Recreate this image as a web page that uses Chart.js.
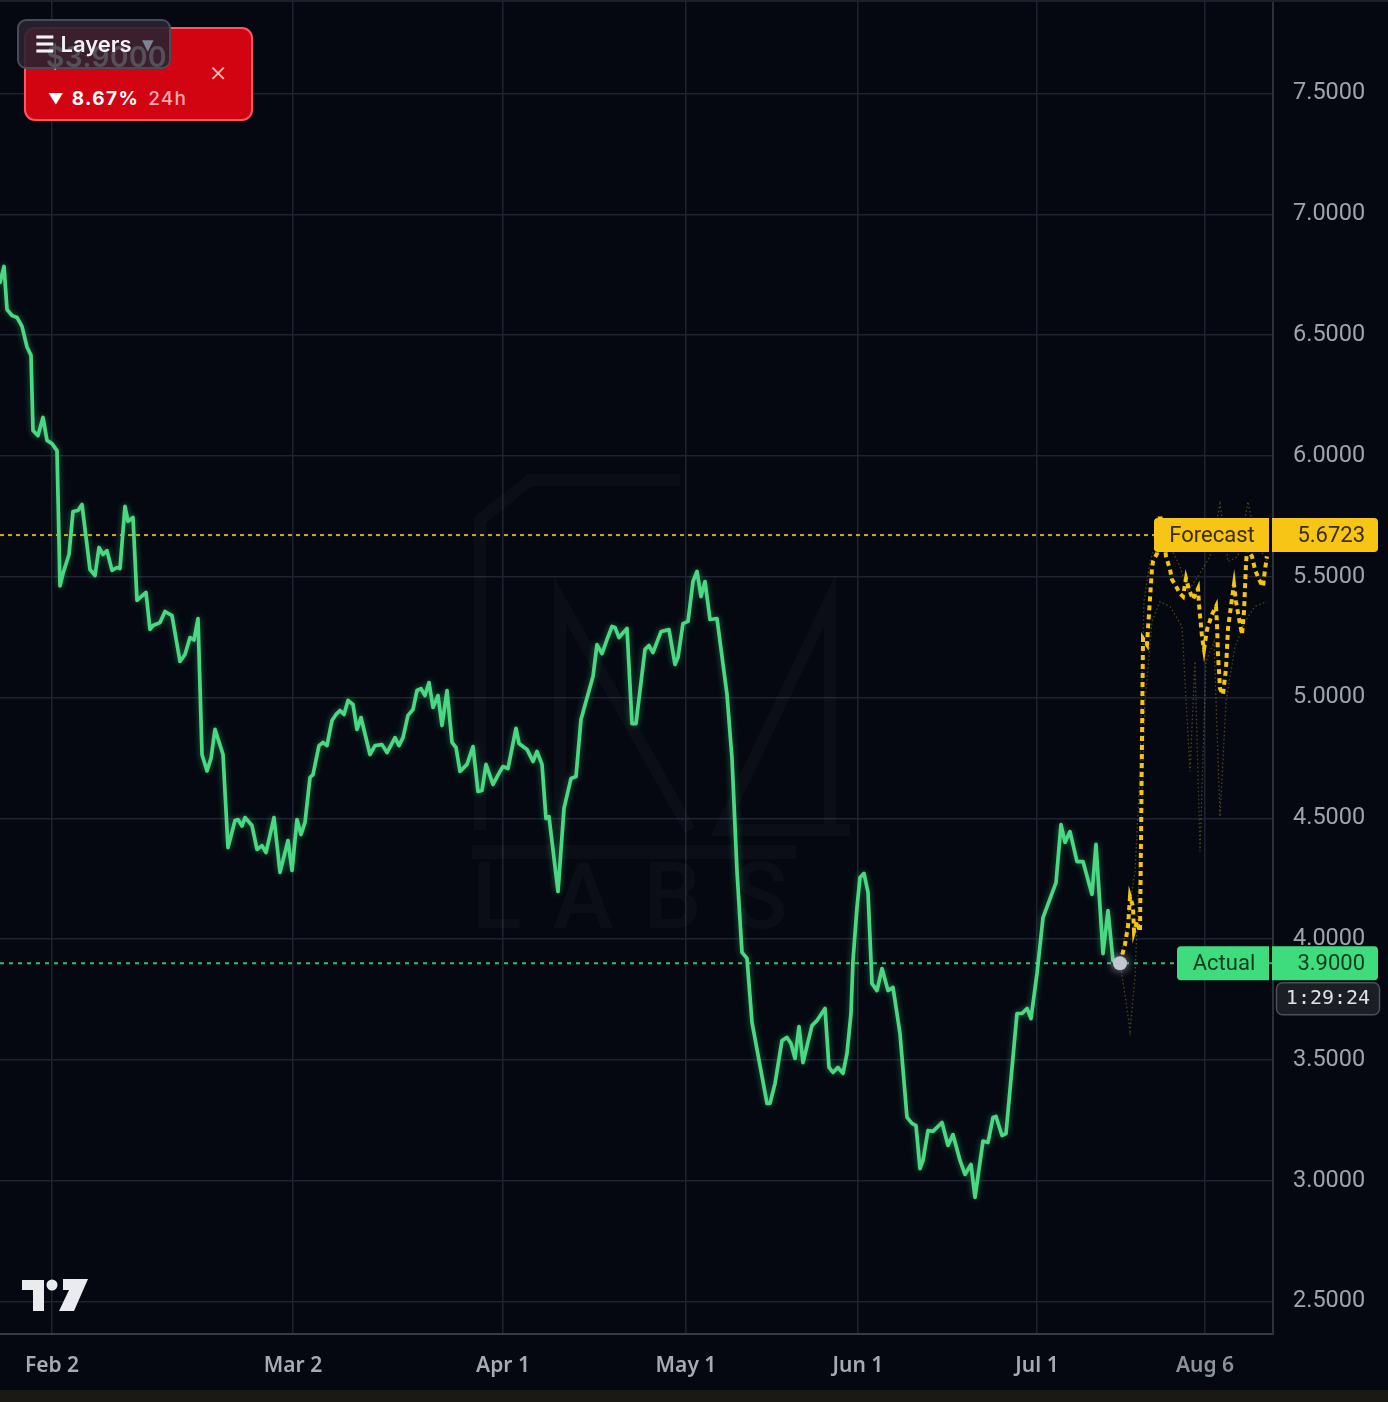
<!DOCTYPE html>
<html>
<head>
<meta charset="utf-8">
<script src="https://cdn.jsdelivr.net/npm/chart.js@4.4.1/dist/chart.umd.min.js"></script>
<style>
html,body{margin:0;padding:0;background:#050811;}
body{width:1388px;height:1402px;position:relative;overflow:hidden;font-family:Inter,Roboto,'Noto Sans',sans-serif;}
#wrap{position:absolute;left:0;top:0;width:1388px;height:1390px;}
#strip{position:absolute;left:0;top:1390px;width:1388px;height:12px;background:#1b1a12;}
#topline{position:absolute;left:0;top:0;width:1388px;height:2px;background:#1a202c;z-index:5;}
.badge{position:absolute;left:24px;top:27px;width:229px;height:94px;box-sizing:border-box;background:#d20412;border:2px solid #ff5462;border-radius:11px;z-index:6;}
.price{position:absolute;left:46px;top:40px;font:600 28px Inter,Roboto,sans-serif;color:#ffffff;z-index:7;letter-spacing:0.5px;}
.pct{position:absolute;left:48px;top:87px;font:700 19px Inter,Roboto,sans-serif;color:#ffffff;letter-spacing:1.4px;z-index:7;white-space:nowrap;}
.pct .tri{font-size:15px;letter-spacing:0;margin-right:8px;position:relative;top:-1px;}
.pct .h{color:#f6a9b1;font-weight:500;letter-spacing:1.2px;margin-left:9px;}
.close{position:absolute;left:209px;top:54px;font:300 28px Inter,Roboto,sans-serif;color:#f7b5bc;z-index:7;}
.layers{position:absolute;left:17px;top:19px;width:154px;height:50px;box-sizing:border-box;background:rgba(42,34,48,0.9);border:2px solid #474c5a;border-radius:9px;z-index:8;}
.layers .t{position:absolute;left:16px;top:10px;font:600 22px Inter,Roboto,sans-serif;color:#f2f2f4;white-space:nowrap;}
.layers .a{position:absolute;left:123px;top:15px;font:400 15px 'DejaVu Sans',sans-serif;color:#7d8494;}
.ghost{position:absolute;left:46px;top:40px;font:600 28px Inter,Roboto,sans-serif;color:rgba(255,255,255,0.12);z-index:9;letter-spacing:0.5px;}
#tv{position:absolute;left:22px;top:1277px;z-index:6;}
</style>
</head>
<body>
<div id="wrap"><canvas id="c" width="1388" height="1390"></canvas></div>
<div id="topline"></div>
<div id="strip"></div>
<div class="badge"></div>
<div class="price">$3.9000</div>
<div class="pct"><span class="tri">▼</span>8.67%<span class="h">24h</span></div>
<div class="close">×</div>
<div class="layers"><div class="t">☰ Layers</div><div class="a">▼</div></div>
<div class="ghost">$3.9000</div>
<svg id="tv" width="68" height="36" viewBox="0 0 68 36">
  <rect x="0" y="3" width="22" height="10" fill="#e9ebef"/>
  <rect x="11" y="3" width="11" height="31" fill="#e9ebef"/>
  <circle cx="30" cy="8" r="5.5" fill="#e9ebef"/>
  <polygon points="41,2 66,2 52,34 37,34 47,13 41,13" fill="#e9ebef"/>
</svg>
<script>
// ---- data ----
const actualX = [0,0.8,1.4,2.4,3.4,4.4,5.4,6.2,6.6,7.6,8.6,9.4,10.4,11.4,12.0,12.6,13.8,14.6,15.6,16.4,18.0,19.0,19.8,20.6,21.4,22.4,23.4,24.0,25.0,25.6,26.6,27.4,29.2,30.0,30.6,32.0,33.0,34.4,36.0,37.0,38.0,38.8,39.6,40.4,41.4,42.2,43.0,44.6,45.6,47.0,47.6,48.4,49.0,50.4,51.4,52.4,53.2,54.8,56.0,57.6,58.4,59.4,60.2,61.0,62.0,62.6,63.8,64.6,65.4,66.4,67.2,68.0,68.8,69.6,70.6,71.4,72.2,74.0,75.0,76.4,77.4,79.0,79.8,80.6,81.6,82.6,83.4,84.2,85.0,85.8,86.6,87.6,88.4,89.4,90.4,91.2,
  92.0,93.4,94.6,95.6,96.4,97.2,98.6,100.0,100.6,101.6,103.2,103.8,105.4,106.6,107.4,108.4,109.2,109.8,111.6,112.8,114.2,115.2,116.2,117.2,118.6,119.4,120.4,121.4,122.4,123.0,123.8,125.4,126.4,127.2,129.0,129.8,130.6,132.2,133.0,133.8,135.0,135.6,136.6,137.6,138.6,139.4,140.2,141.0,142.0,143.4,145.4,146.4,147.4,148.4,149.4,150.4,
  153.4,154.0,155.0,156.4,157.4,158.2,159.0,159.8,160.6,162.4,163.4,165.0,165.8,166.6,167.6,168.6,169.4,170.2,170.6,171.4,172.0,172.8,173.6,174.4,175.4,176.4,177.6,178.6,180.0,181.4,182.4,183.2,184.0,184.6,185.6,186.6,188.4,189.6,190.6,192.0,
  193.0,194.2,195.0,196.6,197.6,198.6,199.2,200.4,201.2,203.4,204.4,205.4,206.2,207.4,208.6,211.2,212.2,213.0,214.0,215.4,216.6,218.4,219.2,220.6,221.6,222.6,224.0];
const actualY = [6.718,6.784,6.606,6.581,6.573,6.536,6.451,6.416,6.105,6.084,6.159,6.064,6.051,6.022,5.462,5.513,5.592,5.770,5.774,5.799,5.530,5.505,5.621,5.592,5.608,5.526,5.538,5.534,5.791,5.729,5.745,5.402,5.435,5.282,5.298,5.310,5.356,5.339,5.149,5.178,5.248,5.238,5.327,4.764,4.696,4.748,4.868,4.764,4.379,4.491,4.495,4.468,4.503,4.470,4.371,4.387,4.358,4.503,4.276,4.408,4.284,4.495,4.433,4.483,4.669,4.681,4.801,4.814,4.801,4.905,4.930,4.946,4.930,4.988,4.971,4.868,4.917,4.764,4.801,4.805,4.772,4.834,4.801,4.834,4.926,4.950,5.029,5.037,5.008,5.062,4.959,5.008,4.884,5.029,4.814,4.793,
  4.694,4.723,4.797,4.611,4.615,4.723,4.640,4.694,4.714,4.706,4.872,4.810,4.785,4.735,4.777,4.723,4.499,4.507,4.197,4.541,4.665,4.673,4.909,4.983,5.087,5.219,5.182,5.240,5.294,5.290,5.248,5.286,4.892,4.892,5.199,5.215,5.186,5.273,5.277,5.281,5.137,5.166,5.306,5.315,5.480,5.522,5.418,5.480,5.323,5.327,5.012,4.748,4.280,3.945,3.920,3.655,
  3.320,3.320,3.402,3.580,3.593,3.568,3.506,3.638,3.489,3.642,3.663,3.713,3.469,3.448,3.469,3.444,3.527,3.692,3.911,4.131,4.255,4.272,4.193,3.816,3.787,3.878,3.787,3.800,3.609,3.262,3.237,3.228,3.050,3.084,3.208,3.204,3.241,3.146,3.191,3.084,
  3.026,3.067,2.931,3.164,3.158,3.262,3.266,3.187,3.195,3.692,3.692,3.713,3.671,3.858,4.089,4.234,4.474,4.400,4.445,4.321,4.321,4.185,4.392,3.940,4.118,3.911,3.900];

const forecastX = [224.0,225.0,225.6,226.0,226.6,226.8,227.4,228.0,228.2,228.4,228.6,229.4,229.6,230.0,230.4,230.6,231.4,232.0,232.6,233.2,234.0,234.4,235.0,236.0,236.6,237.2,237.8,238.6,239.6,239.8,240.4,240.8,241.4,242.4,243.2,243.4,243.6,244.0,244.6,245.2,245.6,246.4,246.8,247.2,247.8,248.4,248.8,249.2,249.4,250.4,251.0,251.8,252.6,253.0,253.4];
const forecastY = [3.900,3.978,4.052,4.176,4.135,4.031,4.073,4.031,4.404,4.818,5.244,5.219,5.286,5.410,5.534,5.563,5.596,5.757,5.687,5.584,5.530,5.488,5.468,5.430,5.418,5.493,5.447,5.406,5.451,5.385,5.252,5.199,5.281,5.343,5.377,5.302,5.178,5.037,5.012,5.120,5.286,5.410,5.468,5.397,5.327,5.261,5.356,5.550,5.613,5.584,5.530,5.488,5.459,5.530,5.584];

const lowerX = [224.0,225.2,226.0,227.0,228.0,229.0,230.4,232.0,234.0,236.4,238.0,239.0,240.0,241.2,242.8,244.0,245.2,247.0,249.0,251.0,253.4];
const lowerY = [3.900,3.742,3.618,3.845,4.363,4.983,5.315,5.397,5.377,5.294,4.694,5.149,4.363,5.149,5.232,4.507,4.983,5.211,5.315,5.377,5.397];
const upperX = [224.0,225.6,227.0,228.0,228.8,230.0,232.0,234.0,236.0,237.6,239.6,242.0,244.0,245.6,247.6,249.6,251.2,253.4];
const upperY = [3.900,4.094,4.280,4.694,5.397,5.563,5.687,5.625,5.542,5.439,5.501,5.584,5.803,5.563,5.584,5.811,5.646,5.563];

const xTickPos = [10.4, 58.6, 100.6, 137.2, 171.6, 207.4, 241.0];
const xTickLabels = ['Feb 2','Mar 2','Apr 1','May 1','Jun 1','Jul 1','Aug 6'];
const yTicks = [2.5,3.0,3.5,4.0,4.5,5.0,5.5,6.0,6.5,7.0,7.5];
const xMin = 0, xMax = 254.6;
const yMin = 2.3655, yMax = 7.8870;
const forecastLast = 5.6723;
const actualLast = 3.9;
const timerText = '1:29:24';

// ---- build ----
const pts = (xs, ys) => xs.map((x, i) => ({x: x, y: ys[i]}));
const FONT = 'Roboto, "Noto Sans", sans-serif';

const overlay = {
  id: 'overlay',
  beforeDatasetsDraw(chart) {
    const {ctx, chartArea: a, scales: {y}} = chart;
    // faint watermark
    ctx.save();
    ctx.fillStyle = 'rgba(255,255,255,0.026)';
    ctx.font = '500 92px ' + FONT;
    if ('letterSpacing' in ctx) ctx.letterSpacing = '30px';
    ctx.fillText('LABS', 472, 928);
    ctx.fillRect(472, 845, 324, 14);
    ctx.strokeStyle = 'rgba(255,255,255,0.026)';
    ctx.lineWidth = 12;
    ctx.beginPath();
    ctx.moveTo(480, 830); ctx.lineTo(480, 520); ctx.lineTo(530, 480); ctx.lineTo(680, 480);
    ctx.moveTo(560, 830); ctx.lineTo(560, 600); ctx.lineTo(690, 830);
    ctx.moveTo(830, 830); ctx.lineTo(830, 600); ctx.lineTo(720, 830); ctx.lineTo(850, 830);
    ctx.stroke();
    ctx.restore();
    // dotted price lines
    const yf = y.getPixelForValue(forecastLast);
    const ya = y.getPixelForValue(actualLast);
    ctx.save();
    ctx.lineWidth = 2;
    ctx.setLineDash([4, 4]);
    ctx.strokeStyle = '#d6ab0e';
    ctx.beginPath(); ctx.moveTo(a.left, yf); ctx.lineTo(a.right, yf); ctx.stroke();
    ctx.setLineDash([4, 5]);
    ctx.strokeStyle = '#2fbf6d';
    ctx.beginPath(); ctx.moveTo(a.left, ya); ctx.lineTo(a.right, ya); ctx.stroke();
    ctx.restore();
  },
  beforeDatasetDraw(chart, args) {
    const ctx = chart.ctx;
    ctx.save();
    if (args.index === 0) { ctx.shadowColor = 'rgba(220,225,235,0.7)'; ctx.shadowBlur = 10; }
    if (args.index === 1) { ctx.shadowColor = 'rgba(74,222,128,0.45)'; ctx.shadowBlur = 6; }
  },
  afterDatasetDraw(chart) { chart.ctx.restore(); },
  afterDraw(chart) {
    const {ctx, chartArea: a, scales: {y}} = chart;
    const yf = y.getPixelForValue(forecastLast);
    const ya = y.getPixelForValue(actualLast);
    function box(x1, x2, yc, h, fill, r) {
      ctx.fillStyle = fill;
      ctx.beginPath();
      ctx.roundRect(x1, yc - h / 2, x2 - x1, h, r);
      ctx.fill();
    }
    ctx.save();
    ctx.font = '22px ' + FONT;
    ctx.textBaseline = 'middle';
    // forecast
    box(a.right - 119, a.right - 4, yf, 34, '#f6c515', [4, 0, 0, 4]);
    box(a.right - 1, a.right + 105, yf, 34, '#f6c515', [0, 4, 4, 0]);
    ctx.fillStyle = '#3a2e00';
    ctx.textAlign = 'center';
    ctx.fillText('Forecast', a.right - 61, yf + 1);
    ctx.textAlign = 'right';
    ctx.fillText(forecastLast.toFixed(4), a.right + 92, yf + 1);
    // actual
    box(a.right - 96, a.right - 4, ya, 34, '#3fdc7d', [4, 0, 0, 4]);
    box(a.right - 1, a.right + 105, ya, 34, '#3fdc7d', [0, 4, 4, 0]);
    ctx.fillStyle = '#0d3b1f';
    ctx.textAlign = 'center';
    ctx.fillText('Actual', a.right - 49, ya + 1);
    ctx.textAlign = 'right';
    ctx.fillText(actualLast.toFixed(4), a.right + 92, ya + 1);
    // timer
    ctx.fillStyle = '#1b1e25';
    ctx.strokeStyle = '#4a4f5b';
    ctx.lineWidth = 1.5;
    ctx.beginPath();
    ctx.roundRect(a.right + 3.5, ya + 19.5, 103, 32, 6);
    ctx.fill(); ctx.stroke();
    ctx.fillStyle = '#dfe2e7';
    ctx.textAlign = 'center';
    ctx.font = '20px "DejaVu Sans Mono", monospace';
    ctx.fillText(timerText, a.right + 55, ya + 36);
    ctx.restore();
  }
};

new Chart(document.getElementById('c'), {
  type: 'line',
  data: {
    datasets: [
      { data: [{x: actualX[actualX.length - 1], y: actualY[actualY.length - 1]}],
        showLine: false, pointRadius: 7, pointHoverRadius: 7,
        pointBackgroundColor: '#c4c7cf', pointBorderWidth: 0, order: 0 },
      { data: pts(actualX, actualY), borderColor: '#4bd882', borderWidth: 3.7,
        pointRadius: 0, tension: 0, order: 1, borderJoinStyle: 'round', borderCapStyle: 'round' },
      { data: pts(forecastX, forecastY), borderColor: '#f4c412', borderWidth: 4,
        borderDash: [5, 4], pointRadius: 0, tension: 0, order: 2 },
      { data: pts(upperX, upperY), borderColor: 'rgba(150,120,20,0.55)', borderWidth: 1.3,
        borderDash: [1.5, 2.5], pointRadius: 0, tension: 0, order: 3 },
      { data: pts(lowerX, lowerY), borderColor: 'rgba(150,120,20,0.55)', borderWidth: 1.3,
        borderDash: [1.5, 2.5], pointRadius: 0, tension: 0, order: 4 }
    ]
  },
  options: {
    responsive: false,
    animation: false,
    devicePixelRatio: 1,
    layout: { padding: 0, autoPadding: false },
    plugins: { legend: { display: false }, tooltip: { enabled: false } },
    events: [],
    scales: {
      x: {
        type: 'linear', min: xMin, max: xMax,
        afterBuildTicks: s => { s.ticks = xTickPos.map(v => ({value: v})); },
        afterFit: s => { s.height = 56; s.paddingLeft = 0; s.paddingRight = 0; },
        grid: { color: '#1d2331', lineWidth: 1.5, drawTicks: false },
        border: { display: true, color: '#363c48', width: 2 },
        ticks: {
          autoSkip: false, maxRotation: 0, padding: 19,
          callback: (v, i) => xTickLabels[i],
          color: c => (c.index === 6 ? '#8c919a' : '#a6aab2'),
          font: { family: '"Noto Sans", Roboto, sans-serif', size: 21, weight: '600' }
        }
      },
      y: {
        type: 'linear', position: 'right', min: yMin, max: yMax,
        afterBuildTicks: s => { s.ticks = yTicks.map(v => ({value: v})); },
        afterFit: s => { s.width = 115; s.paddingTop = 0; s.paddingBottom = 0; },
        grid: { color: '#1d2331', lineWidth: 1.5, drawTicks: false },
        border: { display: true, color: '#2a303c', width: 2 },
        ticks: {
          padding: 20,
          callback: v => Number(v).toFixed(4),
          color: '#9ea3ad',
          font: { family: FONT, size: 23.5 }
        }
      }
    }
  },
  plugins: [overlay]
});
</script>
</body>
</html>
